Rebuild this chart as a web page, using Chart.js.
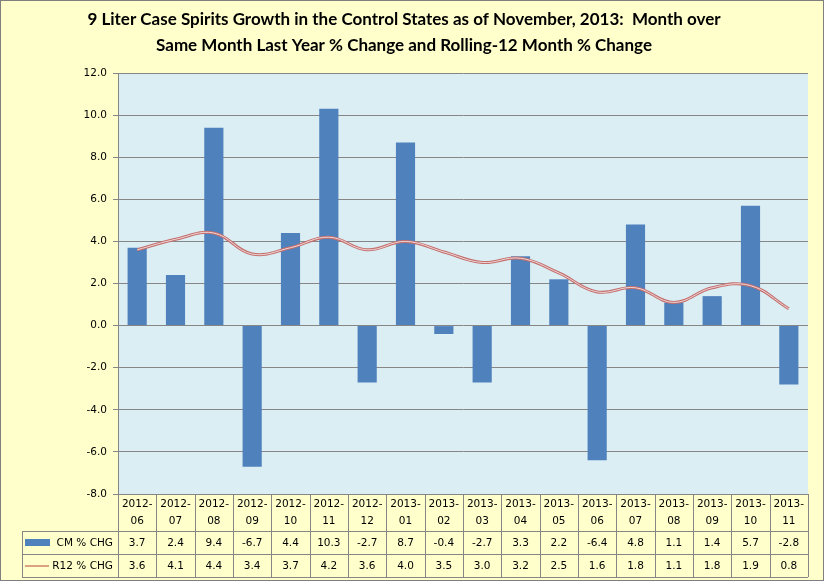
<!DOCTYPE html>
<html>
<head>
<meta charset="utf-8">
<script src="https://cdn.jsdelivr.net/npm/chart.js@4.4.0/dist/chart.umd.min.js"></script>
<style>
  html, body { margin: 0; padding: 0; background: #fff; }
  #wrap { width: 824px; height: 581px; }
</style>
</head>
<body>
<div id="wrap"><canvas id="spiritsChart" width="824" height="581"></canvas></div>
<script>
// ===================== DATA =====================
const months = ["2012-06", "2012-07", "2012-08", "2012-09", "2012-10", "2012-11", "2012-12",
  "2013-01", "2013-02", "2013-03", "2013-04", "2013-05", "2013-06", "2013-07", "2013-08",
  "2013-09", "2013-10", "2013-11"];
const cmChange = [3.7, 2.4, 9.4, -6.7, 4.4, 10.3, -2.7, 8.7, -0.4, -2.7, 3.3, 2.2, -6.4, 4.8, 1.1, 1.4, 5.7, -2.8];
const r12Change = [3.6, 4.1, 4.4, 3.4, 3.7, 4.2, 3.6, 4.0, 3.5, 3.0, 3.2, 2.5, 1.6, 1.8, 1.1, 1.8, 1.9, 0.8];
const seriesNames = ["CM % CHG", "R12 % CHG"];
const yTicks = [-8, -6, -4, -2, 0, 2, 4, 6, 8, 10, 12];
const titleLines = [
  "9 Liter Case Spirits Growth in the Control States as of November, 2013:  Month over",
  "Same Month Last Year % Change and Rolling-12 Month % Change"
];

const tableFont = "10.5px 'DejaVu Sans', Verdana, sans-serif";
const gridColor = "#868686";

// ===================== BACKGROUND PLUGIN =====================
const backgroundPlugin = {
  id: "background",
  beforeDraw(chart) {
    const ctx = chart.ctx;
    const area = chart.chartArea;
    ctx.save();
    ctx.fillStyle = "#FFFFCC";
    ctx.fillRect(0, 0, chart.width, chart.height);
    ctx.strokeStyle = "#7f7f7f";
    ctx.lineWidth = 1;
    ctx.strokeRect(0.5, 0.5, chart.width - 1, chart.height - 1);
    ctx.fillStyle = "#DBEEF4";
    ctx.fillRect(area.left, area.top, area.right - area.left, area.bottom - area.top);
    ctx.restore();
  }
};

// ===================== DATA TABLE PLUGIN =====================
const dataTablePlugin = {
  id: "dataTable",
  afterDraw(chart) {
    const ctx = chart.ctx;
    const area = chart.chartArea;
    const xScale = chart.scales.x;
    const cellW = (area.right - area.left) / months.length;
    const headTop = area.bottom;
    const row1 = headTop + 37;
    const row2 = row1 + 23;
    const row3 = row2 + 23;
    const keyLeft = 22;

    ctx.save();
    ctx.strokeStyle = gridColor;
    ctx.lineWidth = 1;
    ctx.beginPath();
    // horizontal lines
    [row1, row2, row3].forEach(y => {
      ctx.moveTo(keyLeft, Math.round(y) + 0.5);
      ctx.lineTo(area.right, Math.round(y) + 0.5);
    });
    // left border of key column
    ctx.moveTo(keyLeft + 0.5, row1);
    ctx.lineTo(keyLeft + 0.5, row3);
    // category cell boundaries
    for (let i = 0; i <= months.length; i++) {
      const x = Math.round(area.left + i * cellW) + 0.5;
      ctx.moveTo(x, headTop);
      ctx.lineTo(x, row3);
    }
    ctx.stroke();

    ctx.fillStyle = "#000";
    ctx.font = tableFont;
    ctx.textAlign = "center";
    ctx.textBaseline = "middle";
    months.forEach((m, i) => {
      const x = xScale.getPixelForValue(i);
      const parts = m.split("-");
      ctx.fillText(parts[0] + "-", x, headTop + 10);
      ctx.fillText(parts[1], x, headTop + 27);
      ctx.fillText(cmChange[i].toFixed(1), x, (row1 + row2) / 2 + 0.5);
      ctx.fillText(r12Change[i].toFixed(1), x, (row2 + row3) / 2 + 0.5);
    });

    // legend keys
    ctx.fillStyle = "#4F81BD";
    ctx.fillRect(25, row1 + 8, 25, 7);
    ctx.strokeStyle = "#D0806A";
    ctx.lineWidth = 1.5;
    ctx.beginPath();
    ctx.moveTo(25, (row2 + row3) / 2 + 0.5);
    ctx.lineTo(49, (row2 + row3) / 2 + 0.5);
    ctx.stroke();

    ctx.fillStyle = "#000";
    ctx.textAlign = "right";
    ctx.fillText(seriesNames[0], 113, (row1 + row2) / 2 + 0.5);
    ctx.fillText(seriesNames[1], 113, (row2 + row3) / 2 + 0.5);
    ctx.restore();
  }
};

// ===================== CHART SETUP =====================
const ctxSpirits = document.getElementById("spiritsChart").getContext("2d");

const spiritsChart = new Chart(ctxSpirits, {
  type: "bar",
  data: {
    labels: months,
    datasets: [
      {
        type: "line",
        label: seriesNames[1] + " inner",
        data: r12Change,
        borderColor: "#EED6D6",
        borderWidth: 1,
        pointRadius: 0,
        tension: 0.4,
        order: 1
      },
      {
        type: "line",
        label: seriesNames[1],
        data: r12Change,
        borderColor: "#C46F6D",
        borderWidth: 3,
        pointRadius: 0,
        tension: 0.4,
        order: 2
      },
      {
        label: seriesNames[0],
        data: cmChange,
        backgroundColor: "#4F81BD",
        categoryPercentage: 1.0,
        barPercentage: 0.5,
        order: 3
      }
    ]
  },
  options: {
    responsive: false,
    animation: false,
    devicePixelRatio: 1,
    layout: {
      padding: { left: 0, right: 16, top: 0, bottom: 0 }
    },
    plugins: {
      legend: { display: false },
      tooltip: { enabled: false },
      title: {
        display: true,
        text: titleLines,
        color: "#000",
        font: { family: "Lato, 'Open Sans', sans-serif", size: 17, weight: "bold", lineHeight: 1.53 },
        padding: { top: 7, bottom: 14 }
      }
    },
    scales: {
      x: {
        grid: { display: false },
        border: { display: false },
        ticks: { display: false },
        afterFit(scale) { scale.height = 87; }
      },
      y: {
        min: -8,
        max: 12,
        afterFit(scale) { scale.width = 118; },
        afterBuildTicks(scale) { scale.ticks = yTicks.map(v => ({ value: v })); },
        grid: { color: gridColor, tickLength: 5 },
        border: { color: gridColor },
        ticks: {
          color: "#000",
          padding: 6,
          font: { family: "'DejaVu Sans', Verdana, sans-serif", size: 10.5 },
          callback: v => Number(v).toFixed(1)
        }
      }
    }
  },
  plugins: [backgroundPlugin, dataTablePlugin]
});
</script>
</body>
</html>
